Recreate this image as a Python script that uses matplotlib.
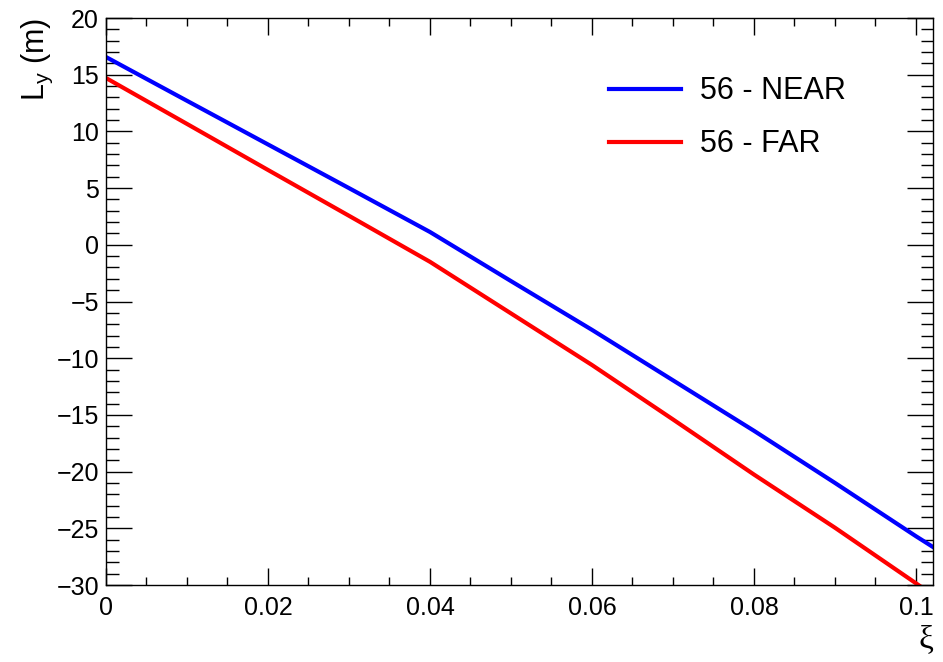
import matplotlib
matplotlib.use("Agg")
import matplotlib.pyplot as plt
from matplotlib.ticker import MultipleLocator

# xi values and L_y (m)
xi = [0.0, 0.01, 0.02, 0.03, 0.04, 0.05, 0.06, 0.07, 0.08, 0.09, 0.1, 0.1021]
near_56 = [16.56, 12.7, 8.85, 5.0, 1.13, -3.2, -7.5, -11.95, -16.4, -21.0, -25.7, -26.65]
far_56 = [14.71, 10.66, 6.6, 2.56, -1.5, -6.05, -10.6, -15.4, -20.26, -24.95, -29.85, -30.9]

series_labels = ["56 - NEAR", "56 - FAR"]
series_colors = ["#0000ff", "#ff0000"]

plt.rcParams['font.family'] = ['Liberation Sans', 'DejaVu Sans']

fig = plt.figure(figsize=(9.43, 6.62), dpi=100)
ax = fig.add_axes([0.1124, 0.1163, 0.877, 0.8565])

ax.plot(xi, near_56, color=series_colors[0], lw=3, label=series_labels[0])
ax.plot(xi, far_56, color=series_colors[1], lw=3, label=series_labels[1])

ax.set_xlim(0, 0.1021)
ax.set_ylim(-30, 20)

# ROOT-like ticks on all sides, pointing in
ax.xaxis.set_major_locator(MultipleLocator(0.02))
ax.xaxis.set_minor_locator(MultipleLocator(0.005))
ax.yaxis.set_major_locator(MultipleLocator(5))
ax.yaxis.set_minor_locator(MultipleLocator(1))
ax.tick_params(axis='x', which='major', direction='in', length=12, width=1,
               top=True, labelsize=18, pad=8)
ax.tick_params(axis='x', which='minor', direction='in', length=6, width=1, top=True)
ax.tick_params(axis='y', which='major', direction='in', length=18.5, width=1,
               right=True, labelsize=18, pad=5)
ax.tick_params(axis='y', which='minor', direction='in', length=9, width=1, right=True)
ax.xaxis.set_major_formatter(plt.FuncFormatter(lambda v, p: "0" if abs(v) < 1e-9 else f"{v:g}"))
for s in ax.spines.values():
    s.set_linewidth(1)

ax.set_ylabel("L$_\\mathregular{y}$ (m)", fontsize=22, loc='top')
ax.yaxis.set_label_coords(-0.062, 1.0)
ax.set_xlabel("ξ", fontsize=24, loc='right', family=['Liberation Serif'])
ax.xaxis.set_label_coords(1.0, -0.07)

ax.legend(loc='upper left', bbox_to_anchor=(0.608, 0.897), frameon=False,
          fontsize=22, handlelength=2.35, handletextpad=0.65,
          labelspacing=0.75, borderpad=0, borderaxespad=0)

fig.savefig("out.png", dpi=100)
